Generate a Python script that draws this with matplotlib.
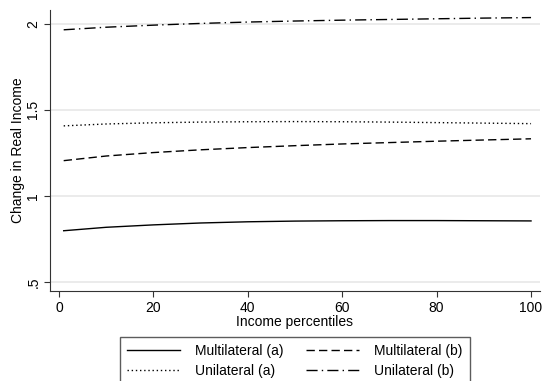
import matplotlib
matplotlib.use("Agg")
import matplotlib.pyplot as plt
import numpy as np

plt.rcParams['font.family'] = ['Liberation Sans', 'DejaVu Sans']

pct = [1, 10, 20, 30, 40, 50, 60, 70, 80, 90, 100]
multi_a = [0.798, 0.818, 0.832, 0.843, 0.850, 0.854, 0.856, 0.857, 0.857, 0.856, 0.855]
multi_b = [1.205, 1.232, 1.252, 1.268, 1.281, 1.292, 1.302, 1.310, 1.318, 1.325, 1.332]
uni_a = [1.407, 1.418, 1.425, 1.429, 1.431, 1.432, 1.431, 1.429, 1.426, 1.423, 1.420]
uni_b = [1.965, 1.980, 1.992, 2.002, 2.010, 2.016, 2.021, 2.025, 2.029, 2.033, 2.036]

xticks = [0, 20, 40, 60, 80, 100]
yticks = [0.5, 1, 1.5, 2]
yticklabels = ['.5', '1', '1.5', '2']

fs = 10

fig = plt.figure(figsize=(5.45, 3.81), dpi=100)
ax = fig.add_axes([50/545, 1-291/381, 490/545, 281/381])

lw = 1.0
h1, = ax.plot(pct, multi_a, color='black', lw=lw, ls='-', label='Multilateral (a)')
h2, = ax.plot(pct, multi_b, color='black', lw=lw, ls=(0, (6, 3)), label='Multilateral (b)')
h3, = ax.plot(pct, uni_a, color='black', lw=lw, ls=(0, (1, 2)), label='Unilateral (a)')
h4, = ax.plot(pct, uni_b, color='black', lw=lw, ls=(0, (8, 3, 1, 3)), label='Unilateral (b)')

ax.set_xlim(-1.9, 101.9)
ax.set_ylim(0.448, 2.08)
ax.set_xticks(xticks)
ax.set_yticks(yticks)
ax.set_yticklabels(yticklabels, rotation=90, va='center')
ax.grid(axis='y', color='#e8e8e8', lw=1.2)
ax.set_axisbelow(True)
for s in ['top', 'right']:
    ax.spines[s].set_visible(False)
for s in ['left', 'bottom']:
    ax.spines[s].set_color('#333333')
ax.tick_params(direction='out', length=4, labelsize=fs, color='#333333', pad=3)
ax.set_xlabel('Income percentiles', fontsize=fs, labelpad=0)
ax.set_ylabel('Change in Real Income', fontsize=fs, labelpad=1)

# column-major fill: col1 = (Multi a, Uni a), col2 = (Multi b, Uni b)
leg = fig.legend([h1, h3, h2, h4],
                 [h.get_label() for h in (h1, h3, h2, h4)],
                 ncol=2, loc='upper center', bbox_to_anchor=(295/545, 1-337/381),
                 frameon=True, fancybox=False, edgecolor='#333333', fontsize=fs,
                 handlelength=3.8, handletextpad=1.1, columnspacing=1.6,
                 borderpad=0.5, labelspacing=0.45, borderaxespad=0)
leg.get_frame().set_linewidth(1.0)

fig.savefig('out.png', dpi=100)
